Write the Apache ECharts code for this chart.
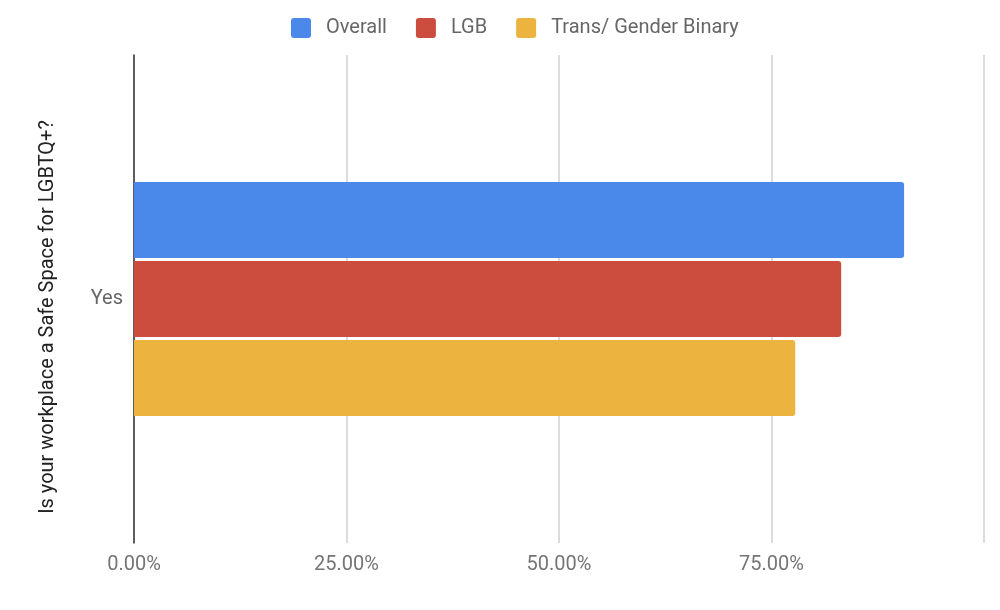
<!DOCTYPE html>
<html><head><meta charset="utf-8">
<script src="https://cdn.jsdelivr.net/npm/echarts@6/dist/echarts.min.js"></script>
<style>html,body{margin:0;padding:0;background:#fff}#c{width:1000px;height:610px}</style>
</head><body><div id="c"></div>
<script>
const categories = ['Yes'];
const seriesNames = ['Overall', 'LGB', 'Trans/ Gender Binary'];
const overall = [90.6];
const lgb = [83.2];
const trans = [77.8];
const xTicks = [0, 25, 50, 75, 100];
const colors = ['#4a88ea', '#cc4d3e', '#ecb43e'];
const values = [overall, lgb, trans];

const chart = echarts.init(document.getElementById('c'));
chart.setOption({
  animation: false,
  color: colors,
  legend: {
    top: 13, left: 286, itemWidth: 20, itemHeight: 20, itemGap: 29,
    icon: 'path://M3,0 L17,0 Q20,0 20,3 L20,17 Q20,20 17,20 L3,20 Q0,20 0,17 L0,3 Q0,0 3,0 Z',
    textStyle: { color: '#666', fontSize: 20, fontFamily: 'Roboto', padding: [0, 0, 0, 10] },
    data: seriesNames
  },
  grid: { left: 134, right: 16, top: 55, bottom: 67 },
  xAxis: {
    type: 'value', min: xTicks[0], max: xTicks[xTicks.length - 1], interval: 25,
    axisLine: { show: false }, axisTick: { show: false },
    splitLine: { lineStyle: { color: '#d0d0d0', width: 1.5 } },
    axisLabel: {
      color: '#757575', fontSize: 20, fontFamily: 'Roboto', margin: 12,
      formatter: v => v === 100 ? '' : v.toFixed(2) + '%'
    }
  },
  yAxis: {
    type: 'category', data: categories,
    name: 'Is your workplace a Safe Space for LGBTQ+?',
    nameLocation: 'middle', nameGap: 76, nameRotate: 90,
    nameTextStyle: { color: '#222', fontSize: 20, fontFamily: 'Roboto', padding: [0, 36, 0, 0] },
    axisLine: { lineStyle: { color: '#333', width: 1.5 } },
    axisTick: { show: false },
    axisLabel: { color: '#666', fontSize: 20, fontFamily: 'Roboto', margin: 11 }
  },
  series: seriesNames.map((n, i) => ({
    name: n, type: 'bar', data: values[i], barWidth: 76, barGap: '4%',
    itemStyle: { borderRadius: [0, 3, 3, 0] }
  }))
});
</script></body></html>
